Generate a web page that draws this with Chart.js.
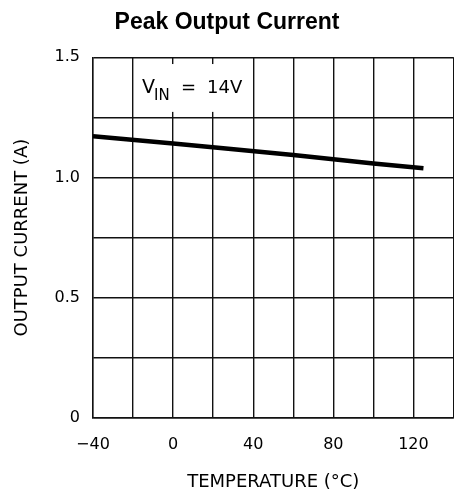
<!DOCTYPE html>
<html>
<head>
<meta charset="utf-8">
<script src="https://cdn.jsdelivr.net/npm/chart.js@4.4.1/dist/chart.umd.min.js"></script>
<style>
  html, body { margin: 0; padding: 0; background: #fff; }
  canvas { display: block; }
</style>
</head>
<body>
<canvas id="chart" width="454" height="493"></canvas>
<script>
// Peak output current vs temperature
const temperatures = [-40, 0, 25, 60, 80, 100, 125]
const outputCurrent = [1.172, 1.142, 1.122, 1.094, 1.076, 1.058, 1.039]

const xLabels = [-40, 0, 40, 80, 120]
const yLabels = [0, 0.5, 1.0, 1.5]

const FONT = "'DejaVu Sans', sans-serif"

// white box with the test condition, drawn over the grid
const conditionLabel = {
  id: "conditionLabel",
  beforeDatasetsDraw(chart) {
    const { ctx, scales: { x, y } } = chart
    const left = x.getPixelForValue(-19)
    const right = x.getPixelForValue(38)
    const top = y.getPixelForValue(1.472)
    const bottom = y.getPixelForValue(1.273)
    ctx.save()
    ctx.fillStyle = "#fff"
    ctx.fillRect(left, top, right - left, bottom - top)

    const ax = x.getPixelForValue(-15.5)
    const ay = y.getPixelForValue(1.35)
    ctx.fillStyle = "#000"
    ctx.textAlign = "left"
    ctx.textBaseline = "alphabetic"
    ctx.font = "19px " + FONT
    ctx.fillText("V", ax, ay)
    ctx.font = "15px " + FONT
    ctx.fillText("IN", ax + 12, ay + 7)
    ctx.font = "18px " + FONT
    ctx.fillText("=", ax + 39, ay)
    ctx.fillText("14V", ax + 65, ay)
    ctx.restore()
  }
}

new Chart(document.getElementById("chart"), {
  type: "line",
  data: {
    datasets: [{
      data: temperatures.map((t, i) => ({ x: t, y: outputCurrent[i] })),
      borderColor: "#000",
      borderWidth: 4.5,
      pointRadius: 0,
      tension: 0,
      fill: false
    }]
  },
  options: {
    responsive: false,
    animation: false,
    layout: { padding: 0 },
    plugins: {
      legend: { display: false },
      tooltip: { enabled: false },
      title: {
        display: true,
        text: "Peak Output Current",
        color: "#000",
        font: { family: "'Liberation Sans', Arial, sans-serif", size: 23, weight: "bold" },
        padding: { top: 9, bottom: 20.7 }
      }
    },
    scales: {
      x: {
        type: "linear",
        min: -40,
        max: 140,
        afterBuildTicks(scale) {
          const ticks = []
          for (let v = -40; v <= 140; v += 20) ticks.push({ value: v })
          scale.ticks = ticks
        },
        afterFit(scale) {
          scale.height = 75
          scale.paddingLeft = 0
          scale.paddingRight = 0.5
        },
        grid: { color: "#111", lineWidth: 1.4, drawTicks: false },
        border: { color: "#111", width: 1.4 },
        ticks: {
          padding: 17,
          color: "#000",
          autoSkip: false,
          maxRotation: 0,
          font: { family: FONT, size: 16 },
          callback: (v) => xLabels.includes(v) ? String(v).replace("-", "\u2212") : ""
        },
        title: {
          display: true,
          text: "TEMPERATURE (\u00B0C)",
          color: "#000",
          font: { family: FONT, size: 18 },
          padding: { top: 0, bottom: 0 }
        }
      },
      y: {
        min: 0,
        max: 1.5,
        afterBuildTicks(scale) {
          const ticks = []
          for (let v = 0; v <= 1.5001; v += 0.25) ticks.push({ value: Math.round(v * 100) / 100 })
          scale.ticks = ticks
        },
        afterFit(scale) {
          scale.width = 93
        },
        grid: { color: "#111", lineWidth: 1.4, drawTicks: false },
        border: { color: "#111", width: 1.4 },
        ticks: {
          padding: 13,
          color: "#000",
          autoSkip: false,
          font: { family: FONT, size: 16 },
          callback: (v) => {
            if (!yLabels.includes(v)) return ""
            return v === 0 ? "0" : v.toFixed(1)
          }
        },
        title: {
          display: true,
          text: "OUTPUT CURRENT (A)",
          color: "#000",
          font: { family: FONT, size: 18 },
          padding: { top: 12, bottom: 0 }
        }
      }
    }
  },
  plugins: [conditionLabel]
})
</script>
</body>
</html>
